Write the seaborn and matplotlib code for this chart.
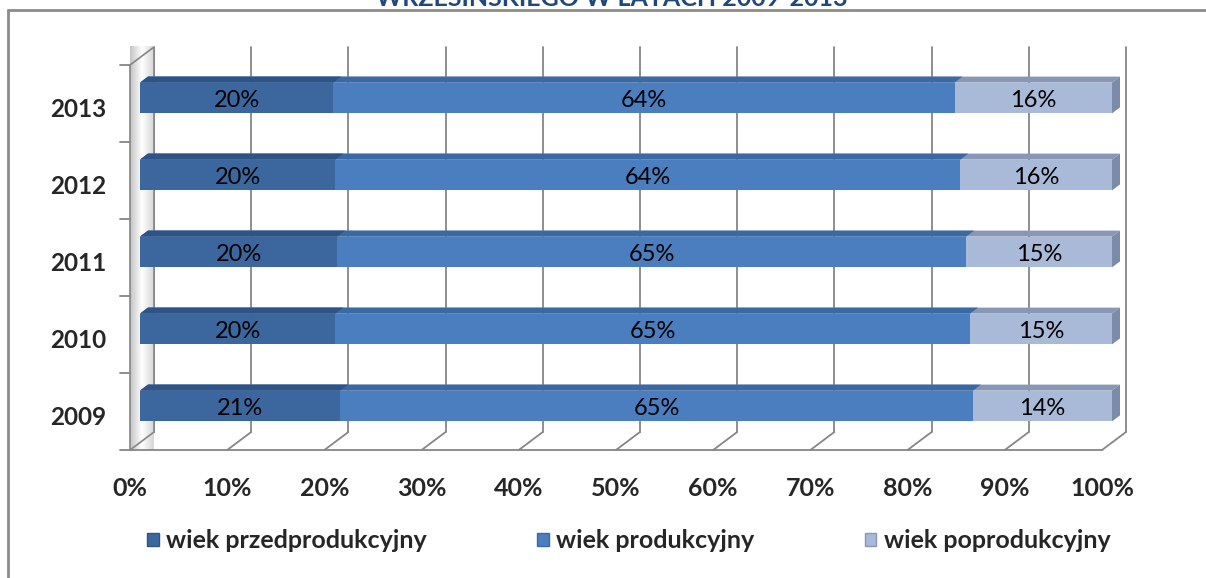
import matplotlib

matplotlib.use("Agg")

import matplotlib.pyplot as plt
from matplotlib.colors import LinearSegmentedColormap
from matplotlib.lines import Line2D
from matplotlib.patches import Patch, Polygon
import numpy as np
import pandas as pd
import seaborn as sns

# data (shares in %)
years = ["2013", "2012", "2011", "2010", "2009"]
przed = [19.9, 20.1, 20.3, 20.1, 20.6]
prod = [63.9, 64.3, 64.7, 65.3, 65.1]
popr = [16.2, 15.6, 15.0, 14.6, 14.3]
series_names = ["wiek przedprodukcyjny", "wiek produkcyjny", "wiek poprodukcyjny"]
x_ticks = list(range(0, 101, 10))
title = "WRZESIŃSKIEGO W LATACH 2009-2013"

front_colors = ["#3C679E", "#4A7EBE", "#A9BAD9"]
top_colors = ["#2E5487", "#3A6AA6", "#8797B5"]
cap_color = "#7B8BA8"
grid_color = "#868686"

W, H = 1206, 578
sns.set_style("white")
plt.rcParams["font.family"] = ["Lato", "DejaVu Sans"]

fig = plt.figure(figsize=(W / 100, H / 100), dpi=100)

# axes geometry in pixels: data 0 -> px 140, 1% = 9.72 px; category 0 centre at px 98, 77 px per category
SX, SY = 9.72, 77.0
ax_l, ax_r, ax_t, ax_b = 120, 1140, 40, 450
ax = fig.add_axes([ax_l / W, 1 - ax_b / H, (ax_r - ax_l) / W, (ax_b - ax_t) / H])
xlim = ((ax_l - 140) / SX, (ax_r - 140) / SX)
ylim = ((ax_b - 98) / SY, (ax_t - 98) / SY)

df = pd.DataFrame({"rok": years, "a": przed, "b": prod, "c": popr})
df["c1"] = df["a"]
df["c2"] = df["a"] + df["b"]
df["c3"] = df["a"] + df["b"] + df["c"]

ddx, ddy = 8 / SX, 6 / SY  # bar depth
layers = [("c3", 2), ("c2", 1), ("c1", 0)]
for k, (col, ci) in enumerate(layers):
    n0 = len(ax.patches)
    sns.barplot(data=df, x=col, y="rok", order=years, orient="h", color=front_colors[ci],
                saturation=1, width=0.4, errorbar=None, linewidth=0, ax=ax)
    z = 3 + 2 * k
    for p in ax.patches[n0:]:
        p.set_zorder(z)
        x0, w, yt, h = p.get_x(), p.get_width(), p.get_y(), p.get_height()
        top = Polygon([(x0, yt), (x0 + w, yt), (x0 + w + ddx, yt - ddy), (x0 + ddx, yt - ddy)],
                      closed=True, facecolor=top_colors[ci], lw=0, zorder=z)
        ax.add_patch(top)
        if k == 0:
            cap = Polygon([(x0 + w, yt), (x0 + w + ddx, yt - ddy), (x0 + w + ddx, yt + h - ddy), (x0 + w, yt + h)],
                          closed=True, facecolor=cap_color, lw=0, zorder=z)
            ax.add_patch(cap)

# value labels
for i, yr in enumerate(years):
    start = 0.0
    for v in (przed[i], prod[i], popr[i]):
        ax.text(start + v / 2, i + 0.03, f"{v:.0f}%", ha="center", va="center",
                fontsize=17, color="black", zorder=20)
        start += v

# 3D walls and grid
fdx = -10 / SX
bdx = 14 / SX
bdy = 18 / SY
floor_y = ylim[0]
top_y = (65 - 98) / SY
floor_b = floor_y - bdy
top_b = top_y - bdy

wall = Polygon([(fdx, floor_y), (fdx, top_y), (bdx, top_b), (bdx, floor_b)], closed=True,
               facecolor="none", edgecolor=grid_color, lw=1.2, zorder=2, clip_on=False)
ax.add_patch(wall)
cmap = LinearSegmentedColormap.from_list("wall", ["#c4c4c4", "#ffffff", "#d6d6d6"])
im = ax.imshow(np.linspace(0, 1, 60).reshape(1, -1), extent=[fdx, bdx, floor_y, top_b],
               cmap=cmap, aspect="auto", zorder=1.5, clip_on=False)
im.set_clip_path(wall)

for t in x_ticks:
    ax.plot([t + bdx, t + bdx], [floor_b, top_b], color=grid_color, lw=1.3, zorder=1, clip_on=False)
    ax.plot([t + fdx, t + bdx], [floor_y, floor_b], color=grid_color, lw=1.3, zorder=1, clip_on=False)

for k in range(6):
    ax.plot([fdx - 10 / SX, fdx], [top_y + k, top_y + k], color=grid_color, lw=1.3, clip_on=False)

ax.set_xlim(*xlim)
ax.set_ylim(*ylim)
sns.despine(ax=ax, left=True, top=True, right=True, bottom=False)
ax.spines["bottom"].set_color(grid_color)
ax.spines["bottom"].set_linewidth(1.3)
ax.spines["bottom"].set_bounds(fdx, 100 + fdx)

ax.set_xticks([t + fdx for t in x_ticks], [f"{t}%" for t in x_ticks])
ax.tick_params(axis="x", direction="out", length=5.5, width=1.3, color=grid_color, pad=14,
               labelsize=18)
for lab in ax.get_xticklabels():
    lab.set_fontweight("bold")
ax.set_yticks([i + 0.117 for i in range(len(years))], years)
ax.tick_params(axis="y", length=0, pad=10, labelsize=17.5)
for lab in ax.get_yticklabels():
    lab.set_fontweight("bold")
ax.set_xlabel("")
ax.set_ylabel("")

# legend
handles = [Patch(facecolor=front_colors[i], edgecolor=top_colors[i], lw=1) for i in range(3)]
fig.legend(handles, series_names, loc="center", bbox_to_anchor=(629 / W, 1 - 541 / H), ncol=3,
           frameon=False, prop={"weight": "bold", "size": 18}, handlelength=0.45,
           handleheight=0.45, handletextpad=0.32, columnspacing=4.4)

# title (mostly cut off at the top of the image, as in the source) and chart frame
fig.text(612 / W, 1 - 6 / H, title, ha="center", va="baseline", color="#1F497D",
         fontweight="bold", fontsize=18)
fig.add_artist(Line2D([8 / W, 1], [1 - 10 / H, 1 - 10 / H], color="#8c8c8c", lw=2))
fig.add_artist(Line2D([8 / W, 8 / W], [0, 1 - 10 / H], color="#8c8c8c", lw=2))

fig.savefig("out.png", dpi=100)
